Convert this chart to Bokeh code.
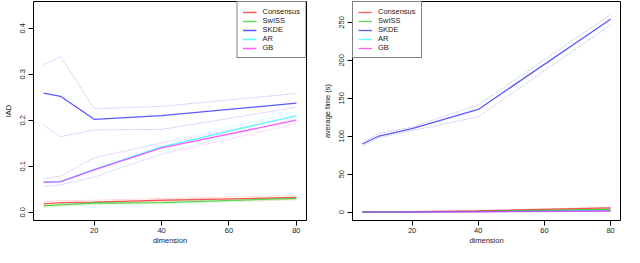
from bokeh.plotting import figure
from bokeh.layouts import row
from bokeh.models import Range1d, FixedTicker, Legend, LegendItem, NumeralTickFormatter
from bokeh.embed import file_html
from bokeh.resources import INLINE

dims = [5, 10, 20, 40, 80]
methods = ["Consensus", "SwISS", "SKDE", "AR", "GB"]
colors = ["#ff0000", "#00cd00", "#0000ff", "#00ffff", "#ff00ff"]

# IAD (left panel): mean, upper, lower
iad_mean = {
    "Consensus": [0.018, 0.021, 0.022, 0.026, 0.032],
    "SwISS":     [0.014, 0.016, 0.020, 0.021, 0.030],
    "SKDE":      [0.259, 0.252, 0.202, 0.210, 0.237],
    "AR":        [0.066, 0.067, 0.093, 0.142, 0.210],
    "GB":        [0.065, 0.066, 0.092, 0.140, 0.200],
}
iad_upper = {
    "Consensus": [0.023, 0.025, 0.026, 0.030, 0.036],
    "SwISS":     [0.017, 0.019, 0.023, 0.024, 0.033],
    "SKDE":      [0.321, 0.338, 0.225, 0.230, 0.258],
    "AR":        [0.074, 0.079, 0.119, 0.152, 0.218],
    "GB":        [0.073, 0.078, 0.118, 0.150, 0.207],
}
iad_lower = {
    "Consensus": [0.014, 0.017, 0.018, 0.022, 0.028],
    "SwISS":     [0.011, 0.013, 0.017, 0.018, 0.027],
    "SKDE":      [0.189, 0.164, 0.179, 0.180, 0.228],
    "AR":        [0.057, 0.060, 0.077, 0.128, 0.203],
    "GB":        [0.056, 0.059, 0.076, 0.126, 0.192],
}

# Average time (right panel)
time_mean = {
    "Consensus": [0.2, 0.3, 0.6, 1.8, 5.5],
    "SwISS":     [0.1, 0.2, 0.4, 1.0, 3.5],
    "SKDE":      [89.8, 100.3, 110.0, 135.3, 254.2],
    "AR":        [0.1, 0.1, 0.3, 0.6, 2.0],
    "GB":        [0.1, 0.1, 0.2, 0.5, 1.5],
}
time_upper = {
    "Consensus": [0.3, 0.4, 0.8, 2.3, 6.5],
    "SwISS":     [0.2, 0.3, 0.5, 1.3, 4.0],
    "SKDE":      [91.5, 103.7, 112.0, 141.2, 260.5],
    "AR":        [0.2, 0.2, 0.4, 0.8, 2.4],
    "GB":        [0.2, 0.2, 0.3, 0.7, 1.9],
}
time_lower = {
    "Consensus": [0.1, 0.2, 0.4, 1.3, 4.5],
    "SwISS":     [0.0, 0.1, 0.3, 0.7, 3.0],
    "SKDE":      [87.3, 98.2, 107.5, 125.6, 246.6],
    "AR":        [0.0, 0.0, 0.2, 0.4, 1.6],
    "GB":        [0.0, 0.0, 0.1, 0.3, 1.1],
}

FONT = "Liberation Sans"
FS = "7.5px"


def make_panel(mean, upper, lower, ylabel, yticks, yr, width, bl, br, loc, fmt):
    p = figure(width=width, height=247, output_backend="svg", toolbar_location=None,
               x_range=Range1d(2, 83), y_range=Range1d(*yr),
               min_border_left=bl, min_border_right=br, min_border_top=1, min_border_bottom=0)
    p.grid.visible = False
    p.outline_line_color = "black"
    p.outline_line_width = 1
    p.background_fill_color = "white"
    p.border_fill_color = "white"
    items = []
    for m, c in zip(methods, colors):
        p.line(dims, upper[m], line_color=c, line_alpha=0.22, line_width=1, line_dash="2 1")
        p.line(dims, lower[m], line_color=c, line_alpha=0.22, line_width=1, line_dash="2 1")
    for m, c in zip(methods, colors):
        r = p.line(dims, mean[m], line_color=c, line_alpha=0.65, line_width=1.3)
        items.append(LegendItem(label=m, renderers=[r]))
    for ax in (p.xaxis[0], p.yaxis[0]):
        ax.axis_line_color = None
        ax.major_tick_out = 5
        ax.major_tick_in = 0
        ax.minor_tick_line_color = None
        ax.major_label_text_font = FONT
        ax.major_label_text_font_size = FS
        ax.major_label_text_color = "#222222"
        ax.axis_label_text_font = FONT
        ax.axis_label_text_font_size = FS
        ax.axis_label_text_font_style = "normal"
        ax.axis_label_text_color = "#222222"
        ax.major_label_standoff = 3
        ax.axis_label_standoff = 5
    p.xaxis.major_label_standoff = 2
    p.xaxis.axis_label_standoff = 0
    p.xaxis.ticker = FixedTicker(ticks=[20, 40, 60, 80])
    p.yaxis.ticker = FixedTicker(ticks=yticks)
    p.yaxis.formatter = NumeralTickFormatter(format=fmt)
    p.yaxis.major_label_orientation = "vertical"
    p.xaxis.axis_label = "dimension"
    p.yaxis.axis_label = ylabel
    leg = Legend(items=items, location=loc, border_line_color="black", border_line_width=1,
                 background_fill_alpha=1, label_text_font=FONT, label_text_font_size=FS,
                 label_text_color="#222222", glyph_width=14, glyph_height=8, label_height=8,
                 label_standoff=6, spacing=0, padding=5, margin=0)
    p.add_layout(leg)
    return p


p1 = make_panel(iad_mean, iad_upper, iad_lower, "IAD", [0, 0.1, 0.2, 0.3, 0.4],
                (-0.018, 0.458), 316, 28, 10, "top_right", "0.0")
p2 = make_panel(time_mean, time_upper, time_lower, "average time (s)", [0, 50, 100, 150, 200, 250],
                (-11, 277.5), 308, 36, 4, "top_left", "0")

layout = row(p1, p2)
open("out.html", "w").write(file_html(layout, INLINE))
